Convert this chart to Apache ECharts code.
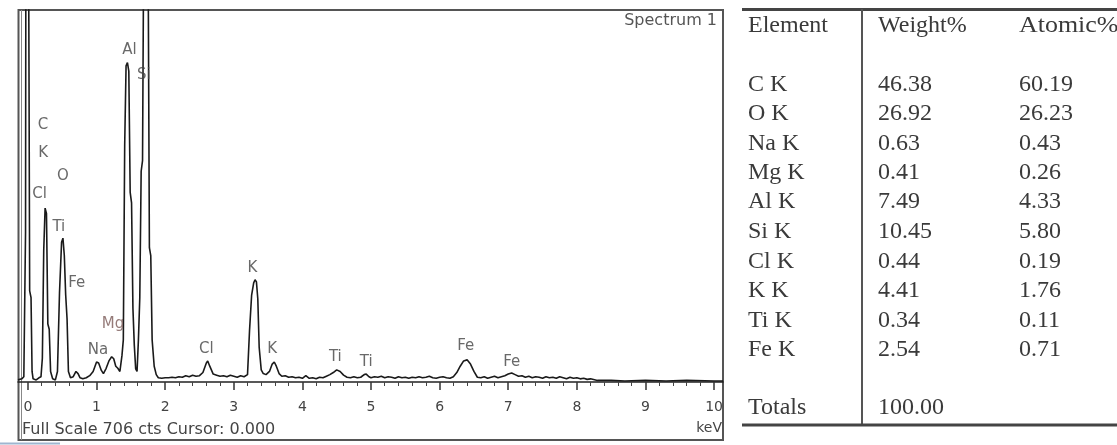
<!DOCTYPE html>
<html><head><meta charset="utf-8">
<script src="https://cdn.jsdelivr.net/npm/echarts@6/dist/echarts.min.js"></script>
<style>html,body{margin:0;padding:0;background:#fff;}#c{width:1117px;height:445px;}</style>
</head><body><div id="c"></div>
<script>
// EDS spectrum: [energy keV, counts]
const spectrum = [
[-0.145,4],[-0.09,6],[-0.06,10],[-0.035,285],[-0.02,2000],[0.0,2000],[0.015,600],[0.025,173],[0.045,160],[0.06,20],[0.075,6],[0.12,4],[0.16,8],
[0.19,10],[0.21,45],[0.23,250],[0.25,330],[0.27,320],[0.29,110],[0.31,100],[0.33,20],[0.36,6],[0.40,4],
[0.43,20],[0.46,170],[0.49,265],[0.51,273],[0.53,240],[0.55,165],[0.57,120],[0.59,20],[0.62,8],[0.66,10],[0.70,20],[0.73,16],[0.76,8],
[0.80,6],[0.85,8],[0.90,12],[0.95,20],[1.00,38],[1.03,36],[1.07,22],[1.10,16],[1.14,26],[1.18,40],[1.22,48],[1.25,44],[1.28,30],[1.31,26],
[1.34,20],[1.37,50],[1.39,80],[1.41,450],[1.43,600],[1.45,606],[1.47,590],[1.49,360],[1.51,340],[1.53,140],[1.55,70],[1.57,25],[1.59,20],
[1.61,80],[1.63,160],[1.65,400],[1.67,420],[1.69,900],[1.72,1000],[1.75,850],[1.77,255],[1.79,240],[1.81,80],[1.84,30],[1.87,14],
[1.90,8],[1.95,7],[2.00,8],[2.05,8],[2.10,9],[2.15,8],[2.20,10],[2.25,9],[2.30,12],[2.35,10],[2.40,13],[2.45,11],[2.50,12],[2.55,18],
[2.60,36],[2.62,40],[2.65,30],[2.70,15],[2.75,13],[2.80,11],[2.85,12],[2.90,10],[2.95,13],[3.00,11],[3.05,9],[3.10,12],[3.15,10],[3.20,14],
[3.23,99],[3.26,165],[3.29,188],[3.31,194],[3.33,190],[3.35,158],[3.37,66],[3.40,23],[3.43,16],[3.47,14],[3.52,20],[3.56,34],[3.59,38],
[3.62,30],[3.66,16],[3.70,11],[3.75,12],[3.80,9],[3.85,10],[3.90,8],[3.95,9],[4.00,7],[4.05,12],[4.10,7],[4.15,8],[4.20,6],[4.25,9],
[4.30,8],[4.35,11],[4.40,14],[4.45,18],[4.50,23],[4.55,20],[4.60,13],[4.65,9],[4.70,8],[4.75,10],[4.80,8],[4.85,9],[4.90,14],[4.93,15],
[4.97,10],[5.00,8],[5.05,10],[5.10,9],[5.15,11],[5.20,8],[5.25,10],[5.30,9],[5.35,7],[5.40,10],[5.45,8],[5.50,9],[5.55,7],[5.60,9],
[5.65,8],[5.70,10],[5.75,8],[5.80,9],[5.85,11],[5.90,8],[5.95,7],[6.00,9],[6.05,10],[6.10,8],[6.15,7],[6.20,10],[6.25,18],[6.30,30],
[6.35,40],[6.40,42],[6.45,34],[6.50,20],[6.55,9],[6.60,8],[6.65,10],[6.70,7],[6.75,9],[6.80,11],[6.85,8],[6.90,10],[6.95,12],[7.00,15],
[7.05,17],[7.10,14],[7.15,11],[7.20,12],[7.25,9],[7.30,11],[7.35,8],[7.40,10],[7.45,9],[7.50,7],[7.55,10],[7.60,8],[7.65,9],[7.70,7],
[7.75,10],[7.80,8],[7.85,6],[7.90,9],[7.95,7],[8.00,8],[8.05,6],[8.10,7],[8.15,5],[8.20,6],[8.30,3],[8.50,3],[8.70,2],[9.00,3],[9.30,2],
[9.60,3],[10.00,2],[10.13,2]
];
const peakNames = ['C','K','O','Cl','Ti','Fe','Na','Mg','Al','Si','Cl','K','K','Ti','Ti','Fe','Fe'];
const peakKeV   = [0.22,0.22,0.51,0.17,0.45,0.71,1.02,1.24,1.48,1.69,2.60,3.27,3.56,4.48,4.93,6.38,7.05];
const peakCts   = [488,435,391,357,294,188,61,110,630,583,63,216,63,47,38,68,38];
const xTickValues = [0,1,2,3,4,5,6,7,8,9,10];
const xTickLabels = ['0','1','2','3','4','5','6','7','8','9','10'];
const fullScaleCts = 706;
const tableHeaders = ['Element','Weight%','Atomic%'];
const elements  = ['C K','O K','Na K','Mg K','Al K','Si K','Cl K','K K','Ti K','Fe K'];
const weightPct = ['46.38','26.92','0.63','0.41','7.49','10.45','0.44','4.41','0.34','2.54'];
const atomicPct = ['60.19','26.23','0.43','0.26','4.33','5.80','0.19','1.76','0.11','0.71'];
const totalsLabel = 'Totals';
const totalWeight = '100.00';

const minorTicks = [];
for (let i = 0; i < xTickValues.length - 1; i++) {
  for (let k = 1; k < 5; k++) minorTicks.push(+(xTickValues[i] + k * 0.2).toFixed(2));
}

const chart = echarts.init(document.getElementById('c'), null, {renderer: 'canvas'});
const sans = 'DejaVu Sans';
const serif = 'Liberation Serif';
const tableColor = '#3a3a3a';
const rowY = [85,114,144,173,202,232,262,291,321,350];

const graphics = [
  {type:'rect', shape:{x:18.5,y:10,width:704.5,height:430}, style:{fill:null, stroke:'#555', lineWidth:2}, z:0},
  {type:'line', shape:{x1:21.5,y1:10,x2:21.5,y2:440}, style:{stroke:'#888', lineWidth:1}},
  {type:'line', shape:{x1:0,y1:443.5,x2:60,y2:443.5}, style:{stroke:'#9fb6d0', lineWidth:2}},
  {type:'text', x:717, y:21, style:{text:'Spectrum 1', font:'16px '+sans, fill:'#555', align:'right', verticalAlign:'middle'}},
  {type:'text', x:22, y:430, style:{text:'Full Scale ' + fullScaleCts + ' cts Cursor: 0.000', font:'16px '+sans, fill:'#444', align:'left', verticalAlign:'middle'}},
  {type:'text', x:722, y:428, style:{text:'keV', font:'14px '+sans, fill:'#444', align:'right', verticalAlign:'middle'}},
  // table lines
  {type:'line', shape:{x1:742,y1:9.5,x2:1117,y2:9.5}, style:{stroke:'#444', lineWidth:3}},
  {type:'line', shape:{x1:862,y1:9,x2:862,y2:425}, style:{stroke:'#555', lineWidth:2}},
  {type:'line', shape:{x1:742,y1:425,x2:1117,y2:425}, style:{stroke:'#444', lineWidth:3}},
];
const colX = [748, 878, 1019];
const tFont = '24px ' + serif;
tableHeaders.forEach((h, i) => graphics.push({type:'text', x:colX[i], y:26, scaleX: i===2 ? 1.08 : 1, style:{text:h, font:tFont, fill:tableColor, align:'left', verticalAlign:'middle'}}));
elements.forEach((e, i) => {
  graphics.push({type:'text', x:colX[0], y:rowY[i], style:{text:e, font:tFont, fill:tableColor, align:'left', verticalAlign:'middle'}});
  graphics.push({type:'text', x:colX[1], y:rowY[i], style:{text:weightPct[i], font:tFont, fill:tableColor, align:'left', verticalAlign:'middle'}});
  graphics.push({type:'text', x:colX[2], y:rowY[i], style:{text:atomicPct[i], font:tFont, fill:tableColor, align:'left', verticalAlign:'middle'}});
});
graphics.push({type:'text', x:colX[0], y:408, style:{text:totalsLabel, font:tFont, fill:tableColor, align:'left', verticalAlign:'middle'}});
graphics.push({type:'text', x:colX[1], y:408, style:{text:totalWeight, font:tFont, fill:tableColor, align:'left', verticalAlign:'middle'}});

chart.setOption({
  animation: false,
  backgroundColor: '#fff',
  grid: {left:18, right:394, top:10, bottom:63, containLabel:false},
  xAxis: [
    {type:'value', min:-0.145, max:10.13, position:'bottom',
     axisLine:{show:true, onZero:false, lineStyle:{color:'#222', width:1.5}},
     axisTick:{show:true, length:8, customValues:xTickValues, lineStyle:{color:'#333', width:1.5}},
     axisLabel:{show:true, customValues:xTickValues, formatter:(v)=>xTickLabels[xTickValues.indexOf(Math.round(v))] ?? '', margin:18, fontFamily:sans, fontSize:14, color:'#444'},
     splitLine:{show:false}},
    {type:'value', min:-0.145, max:10.13, position:'bottom', offset:0,
     axisLine:{show:false}, axisLabel:{show:false}, splitLine:{show:false},
     axisTick:{show:true, length:4, customValues:minorTicks, lineStyle:{color:'#444', width:1}}}
  ],
  yAxis: {type:'value', min:0, max:fullScaleCts, show:false, splitLine:{show:false}},
  series: [
    {type:'line', xAxisIndex:0, data:spectrum, showSymbol:false, clip:true,
     lineStyle:{color:'#1a1a1a', width:1.6}, z:3},
    {type:'scatter', xAxisIndex:0, symbolSize:0, z:4,
     data: peakKeV.map((k, i) => ({value:[k, peakCts[i]], name:peakNames[i],
       label:{color: peakNames[i]==='Mg' ? '#7a5a58' : '#444'}})),
     label:{show:true, position:'inside', formatter:(p)=>p.name, fontFamily:sans, fontSize:15}}
  ],
  graphic: graphics
});
</script></body></html>
